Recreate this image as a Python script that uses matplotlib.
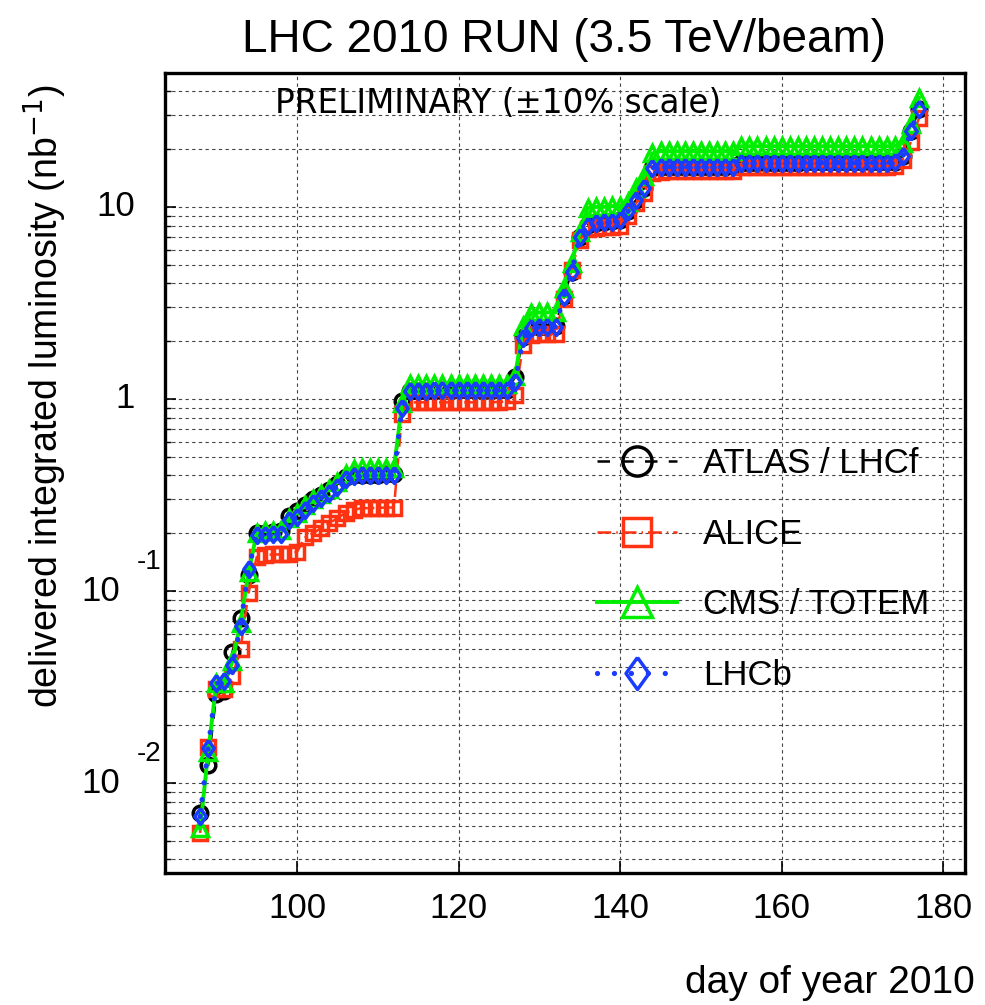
"""
LHC 2010 run: delivered integrated luminosity per experiment vs day of year.
Values read off the published preliminary plot (one point per day).
"""
import matplotlib
matplotlib.use("Agg")
import matplotlib.pyplot as plt
from matplotlib.ticker import LogLocator, NullFormatter

plt.rcParams["font.family"] = ["Liberation Sans", "DejaVu Sans"]

# ---- data (nb^-1), days 88..177 ------------------------------------------
days = list(range(88, 178))

atlas = [
    0.0070, 0.0124, 0.029, 0.030, 0.048, 0.072, 0.121, 0.200, 0.201, 0.202,
    0.205, 0.245, 0.260, 0.280, 0.300, 0.318, 0.335, 0.360, 0.390, 0.400,
    0.402, 0.403, 0.404, 0.405, 0.405, 0.97, 1.10, 1.10, 1.10, 1.10,
    1.11, 1.11, 1.11, 1.11, 1.11, 1.11, 1.11, 1.12, 1.12, 1.30,
    2.10, 2.36, 2.38, 2.38, 2.39, 3.42, 4.60, 7.00, 8.05, 8.20,
    8.30, 8.40, 8.50, 9.50, 10.9, 12.6, 16.0, 16.1, 16.1, 16.2,
    16.2, 16.2, 16.2, 16.2, 16.2, 16.2, 16.3, 17.0, 17.0, 17.0,
    17.0, 17.0, 17.0, 17.0, 17.0, 17.1, 17.1, 17.1, 17.1, 17.1,
    17.1, 17.1, 17.1, 17.1, 17.1, 17.1, 17.2, 18.3, 24.7, 32.4,
]
alice = [
    0.0055, 0.0155, 0.031, 0.031, 0.036, 0.050, 0.098, 0.150, 0.154, 0.155,
    0.155, 0.155, 0.160, 0.190, 0.200, 0.213, 0.225, 0.240, 0.255, 0.265,
    0.270, 0.270, 0.271, 0.272, 0.272, 0.83, 0.96, 0.96, 0.96, 0.96,
    0.96, 0.96, 0.96, 0.96, 0.96, 0.96, 0.96, 0.965, 0.97, 1.05,
    1.91, 2.15, 2.17, 2.18, 2.18, 3.30, 4.70, 6.70, 7.70, 7.80,
    7.85, 7.90, 8.00, 9.00, 10.5, 11.8, 15.0, 15.2, 15.3, 15.3,
    15.3, 15.3, 15.3, 15.3, 15.3, 15.3, 15.4, 16.2, 16.2, 16.2,
    16.2, 16.2, 16.2, 16.2, 16.2, 16.2, 16.2, 16.2, 16.2, 16.2,
    16.2, 16.2, 16.2, 16.2, 16.2, 16.2, 16.3, 17.5, 21.8, 29.0,
]
cms = [
    0.0058, 0.0145, 0.033, 0.033, 0.043, 0.068, 0.125, 0.200, 0.205, 0.205,
    0.207, 0.240, 0.255, 0.280, 0.300, 0.320, 0.340, 0.370, 0.405, 0.430,
    0.435, 0.435, 0.435, 0.435, 0.435, 0.95, 1.19, 1.19, 1.19, 1.19,
    1.19, 1.19, 1.19, 1.19, 1.19, 1.19, 1.19, 1.20, 1.20, 1.32,
    2.40, 2.80, 2.82, 2.82, 2.82, 3.80, 5.10, 7.40, 9.90, 10.0,
    10.0, 10.1, 10.1, 10.6, 12.5, 14.5, 19.0, 19.5, 19.5, 19.5,
    19.5, 19.5, 19.5, 19.5, 19.5, 19.5, 19.5, 20.7, 20.7, 20.7,
    20.7, 20.7, 20.7, 20.7, 20.7, 20.7, 20.7, 20.7, 20.7, 20.7,
    20.7, 20.7, 20.7, 20.7, 20.7, 20.7, 20.8, 21.5, 27.0, 37.0,
]
lhcb = [
    0.0067, 0.0152, 0.033, 0.034, 0.041, 0.066, 0.130, 0.195, 0.196, 0.197,
    0.198, 0.234, 0.242, 0.264, 0.286, 0.305, 0.325, 0.350, 0.385, 0.398,
    0.400, 0.400, 0.401, 0.401, 0.401, 0.90, 1.10, 1.10, 1.10, 1.11,
    1.11, 1.11, 1.11, 1.11, 1.11, 1.11, 1.11, 1.11, 1.12, 1.23,
    2.08, 2.35, 2.37, 2.38, 2.38, 3.40, 4.57, 6.98, 8.00, 8.20,
    8.30, 8.35, 8.50, 9.50, 10.9, 12.6, 16.0, 16.2, 16.2, 16.2,
    16.2, 16.2, 16.2, 16.2, 16.2, 16.2, 16.2, 17.0, 17.0, 17.0,
    17.0, 17.0, 17.0, 17.0, 17.0, 17.0, 17.0, 17.0, 17.0, 17.0,
    17.0, 17.0, 17.0, 17.0, 17.0, 17.0, 17.1, 18.3, 24.7, 32.4,
]

labels = ["ATLAS / LHCf", "ALICE", "CMS / TOTEM", "LHCb"]
xticks = [100, 120, 140, 160, 180]
# y decade labels: (value, mantissa text, exponent text)
ydecades = [(0.01, "10", "-2"), (0.1, "10", "-1"), (1, "1", ""), (10, "10", "")]

RED = "#ff3311"
GREEN = "#00ee00"
BLUE = "#1a3cff"
# diamond a bit wider than matplotlib's thin diamond
DIAMOND = [(0, 1), (0.72, 0), (0, -1), (-0.72, 0), (0, 1)]

fig = plt.figure(figsize=(9.85, 10.05), dpi=100)
ax = fig.add_axes([0.1675, 0.1313, 0.8122, 0.7964])

common = dict(fillstyle="none", markeredgewidth=2.5)
ax.plot(days, atlas, color="black", ls=(0, (5.0, 4.5)), lw=1.8,
        marker="o", ms=10.5, label=labels[0], **common)
ax.plot(days, alice, color=RED, ls=(0, (5.5, 2, 0.6, 2)), lw=1.8,
        marker="s", ms=10, label=labels[1], **common)
ax.plot(days, cms, color=GREEN, ls="-", lw=2.8,
        marker="^", ms=11, label=labels[2], **common)
ax.plot(days, lhcb, color=BLUE, ls=(0, (0.01, 3.2)), lw=3.8,
        dash_capstyle="round", marker=DIAMOND, ms=11.5, label=labels[3], **common)

ax.set_yscale("log")
ax.set_xlim(83.65, 182.7)
ax.set_ylim(0.0034, 50)

ax.set_xticks(xticks)
ax.set_xticklabels([str(t) for t in xticks], fontsize=25)
ax.yaxis.set_major_locator(LogLocator(base=10, numticks=10))
ax.yaxis.set_minor_locator(LogLocator(base=10, subs=range(2, 10), numticks=20))
ax.yaxis.set_major_formatter(NullFormatter())
ax.yaxis.set_minor_formatter(NullFormatter())
ax.tick_params(axis="x", which="major", direction="in", length=9, width=1.2, pad=14)
ax.tick_params(axis="y", which="major", direction="in", length=8, width=1.2)
ax.tick_params(axis="y", which="minor", direction="in", length=4, width=1.0)

grid = dict(color="#444444", lw=0.8, ls=(0, (3, 3)))
ax.grid(True, axis="y", which="both", **grid)
ax.grid(True, axis="x", which="major", **grid)
for s in ax.spines.values():
    s.set_linewidth(2.4)

# decade labels drawn ROOT-style (exponent placed high and to the right)
ytr = ax.get_yaxis_transform()
for val, mant, expo in ydecades:
    if expo:
        ax.text(-0.056, val, mant, transform=ytr, ha="right", va="center",
                fontsize=25)
        ax.text(-0.035, val * 1.42, expo, transform=ytr, ha="left", va="center",
                fontsize=20)
    else:
        ax.text(-0.0375, val, mant, transform=ytr, ha="right", va="center",
                fontsize=25)

ax.legend(loc="upper left", bbox_to_anchor=(0.54, 0.532), frameon=False,
          fontsize=25, markerscale=2.0, handlelength=2.3, handletextpad=0.75,
          labelspacing=1.08, borderpad=0, borderaxespad=0)

fig.text(564 / 985, 1 - 52 / 1005, "LHC 2010 RUN (3.5 TeV/beam)",
         ha="center", va="baseline", fontsize=33)
ax.text(498 / 985, 1 - 113 / 1005, "PRELIMINARY (\u00b110% scale)",
        transform=fig.transFigure, ha="center", va="baseline", fontsize=23.5,
        family="DejaVu Sans")
fig.text(45 / 985, 1 - 84 / 1005, "delivered integrated luminosity (nb$^{-1}$)",
         rotation=90, ha="center", va="top", fontsize=27)
fig.text(975 / 985, 1 - 993 / 1005, "day of year 2010",
         ha="right", va="baseline", fontsize=28)

fig.savefig("out.png", dpi=100)
